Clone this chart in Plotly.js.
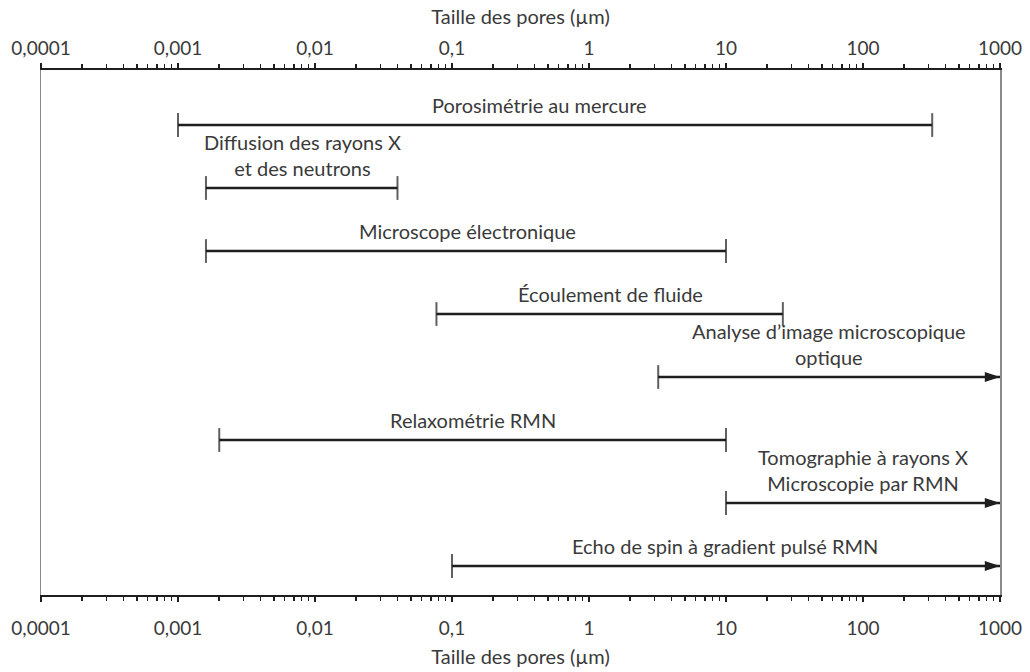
<!DOCTYPE html>
<html><head><meta charset="utf-8">
<script src="https://cdn.plot.ly/plotly-3.0.1.min.js"></script>
<style>body{margin:0;background:#fff}#c{width:1030px;height:672px}</style>
</head><body><div id="c"></div>
<script>
// ---- data ----
const methods = [
  'Porosimétrie au mercure',
  'Diffusion des rayons X<br>et des neutrons',
  'Microscope électronique',
  'Écoulement de fluide',
  'Analyse d\u2019image microscopique<br>optique',
  'Relaxométrie RMN',
  'Tomographie à rayons X<br>Microscopie par RMN',
  'Echo de spin à gradient pulsé RMN'
];
const rangeMin = [0.001, 0.0016, 0.0016, 0.077, 3.2, 0.002, 10, 0.1];
const rangeMax = [320, 0.04, 10, 26, 1000, 10, 1000, 1000];
const openEnded = [false, false, false, false, true, false, true, true];
const tickValues = [0.0001, 0.001, 0.01, 0.1, 1, 10, 100, 1000];
const tickLabels = ['0,0001', '0,001', '0,01', '0,1', '1', '10', '100', '1000'];
const axisTitle = 'Taille des pores (\u00b5m)';

// ---- layout helpers ----
const FONT = 'Lato, Open Sans, sans-serif';
const TXT = '#3a3a3a';
const DARK = '#1e1e1e';
const labelX = [-0.365, -2.09, -0.89, 0.16, 1.75, -0.85, 2.0, 0.99]; // log10 centre of each label

const minorVals = [];
for (let e = -4; e < 3; e++) for (let m = 2; m <= 9; m++) minorVals.push(m * Math.pow(10, e));

const traces = [];
methods.forEach((name, i) => {
  traces.push({
    x: [rangeMin[i], rangeMax[i]], y: [i, i], type: 'scatter', mode: 'lines+markers',
    line: {color: DARK, width: 2.6},
    marker: {symbol: 'line-ns', size: [17, openEnded[i] ? 0 : 17], color: DARK,
             line: {color: DARK, width: 2}},
    cliponaxis: false, hoverinfo: 'skip', showlegend: false
  });
  if (openEnded[i]) {
    traces.push({
      x: [rangeMax[i]], y: [i], type: 'scatter', mode: 'markers',
      marker: {symbol: 'arrow', angle: 90, size: 16, color: DARK, line: {width: 0}},
      cliponaxis: false, hoverinfo: 'skip', showlegend: false
    });
  }
});
// invisible trace for top axis
traces.push({x: [1], y: [0], xaxis: 'x2', mode: 'markers', marker: {opacity: 0}, hoverinfo: 'skip', showlegend: false});

const baseAxis = {
  type: 'log', range: [-4, 3], tickmode: 'array', tickvals: tickValues, ticktext: tickLabels,
  ticks: 'outside', ticklen: 5, tickwidth: 1.5, tickcolor: DARK,
  showline: true, linecolor: DARK, linewidth: 2,
  showgrid: false, zeroline: false,
  tickfont: {family: FONT, size: 19, color: TXT},
  minor: {tickmode: 'array', tickvals: minorVals, ticks: 'outside', ticklen: 4, tickwidth: 1.5, tickcolor: DARK, showgrid: false},
  title: {text: axisTitle, font: {family: FONT, size: 20, color: TXT}, standoff: 6}
};
const crossAxis = {
  type: 'log', range: [-4, 3], tickmode: 'array', tickvals: tickValues,
  ticks: 'inside', ticklen: 8, tickwidth: 1.5, tickcolor: DARK,
  showticklabels: false, showline: false, showgrid: false, zeroline: false, overlaying: 'x', anchor: 'y'
};

const annotations = methods.map((name, i) => ({
  xref: 'x', yref: 'y', x: labelX[i], y: i, text: name, showarrow: false,
  yanchor: 'bottom', yshift: 6, align: 'center',
  font: {family: FONT, size: 20, color: TXT}
}));

const layout = {
  width: 1030, height: 672,
  margin: {l: 41, r: 30, t: 70, b: 77},
  paper_bgcolor: '#fff', plot_bgcolor: '#fff',
  xaxis: Object.assign({}, baseAxis, {side: 'bottom', anchor: 'y', ticklabelstandoff: 10,
          title: {text: axisTitle, font: {family: FONT, size: 20, color: TXT}, standoff: 12}}),
  xaxis2: Object.assign({}, baseAxis, {side: 'top', anchor: 'y', overlaying: 'x'}),
  xaxis3: Object.assign({}, crossAxis, {side: 'bottom'}),
  xaxis4: Object.assign({}, crossAxis, {side: 'top'}),
  yaxis: {range: [7.46, -0.873], showline: true, mirror: true, linecolor: '#8a8a8a', linewidth: 1.5,
          ticks: '', showticklabels: false, showgrid: false, zeroline: false},
  annotations: annotations,
  showlegend: false
};
Plotly.newPlot('c', traces, layout, {displayModeBar: false, staticPlot: true});
</script></body></html>
